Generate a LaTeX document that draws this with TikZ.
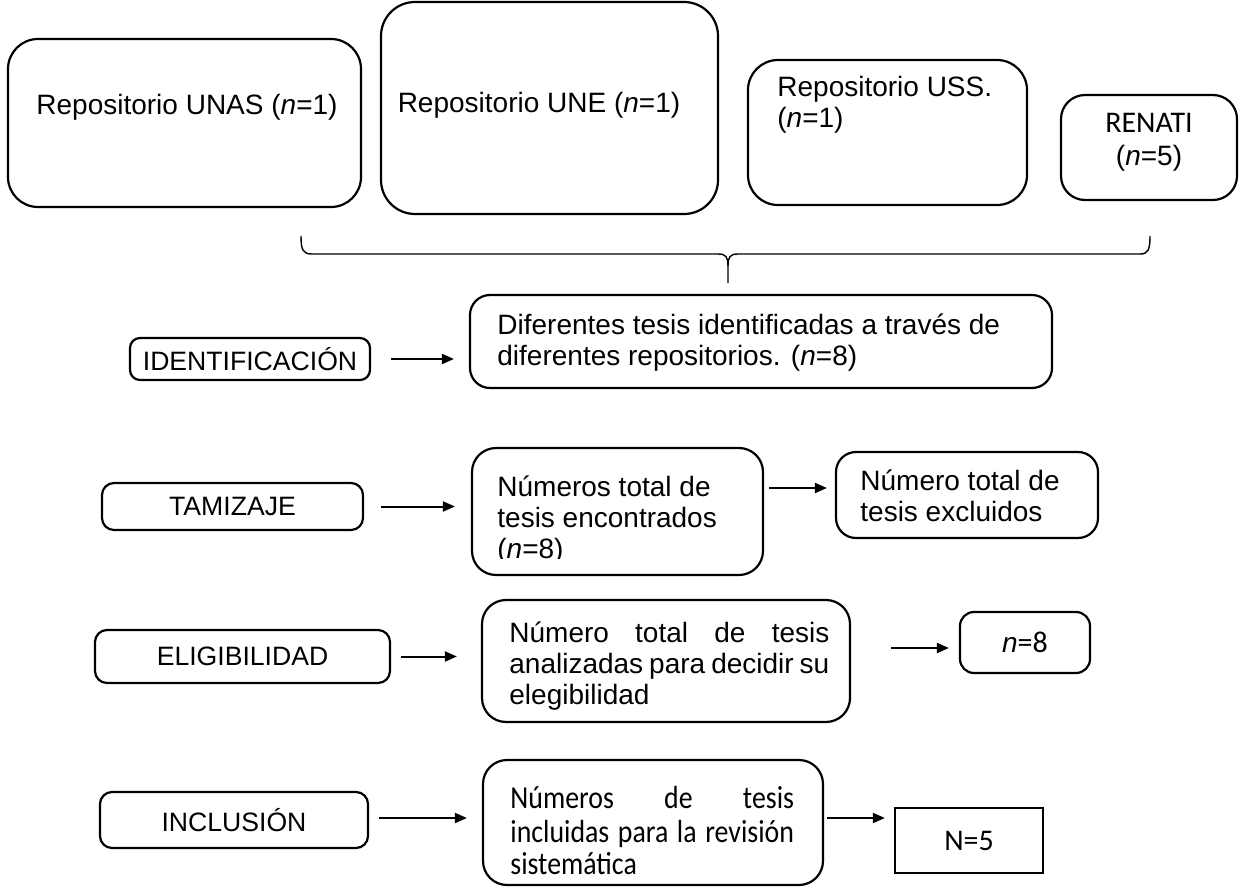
\documentclass[tikz,border=0pt]{standalone}
\usepackage{fontspec}
\setmainfont{Liberation Sans}
\newfontfamily\calib{Carlito}
\usetikzlibrary{arrows.meta}
\begin{document}
\begin{tikzpicture}[x=0.5pt,y=-0.5pt,
  every node/.style={font=\fontsize{14}{15.5}\selectfont, inner sep=0pt},
  bx/.style={draw, line width=1.1pt, rounded corners=#1},
  sq/.style={draw, line width=1.1pt},
  lbl/.style={font=\fontsize{13.3}{15}\selectfont},
  arr/.style={line width=1pt, -{Triangle[length=6pt,width=5pt]}},
  brace/.style={line width=0.7pt},
  txt/.style={align=left, anchor=west}]
\useasboundingbox (0,0) rectangle (1248,888);

% top repository boxes
\node[bx=15pt, minimum width=176.5pt, minimum height=84pt] (unas) at (184.5,123) {};
\node[bx=17pt, minimum width=168.5pt, minimum height=106pt] (une) at (549.5,108) {};
\node[bx=15pt, minimum width=139.5pt, minimum height=72.5pt] (uss) at (887.5,132.5) {};
\node[bx=12pt, minimum width=88pt, minimum height=52.5pt] (renati) at (1149,147.5) {};
\node (unast) at (187,107) {Repositorio UNAS (\textit{n}=1)};
\node (unet) at (539,105) {Repositorio UNE (\textit{n}=1)};
\node[txt] (usst) at (777,105) {Repositorio USS.\\(\textit{n}=1)};
\node[align=center, font=\fontsize{14}{16.5}\selectfont] (renatit) at (1149,142) {{\calib\fontsize{15}{16.5}\selectfont RENATI}\\(\textit{n}=5)};

% brace
\coordinate (bl) at (301,236);
\coordinate (br) at (1150,236);
\coordinate (bm) at (728,266);
\coordinate (btip) at (728,283);
\draw[brace] (bl) .. controls (301,250) and (303,254) .. (312,254) -- (718,254)
  .. controls (726,254) and (728,257) .. (bm) -- (btip);
\draw[brace] (bm) .. controls (728,257) and (730,254) .. (738,254) -- (1140,254)
  .. controls (1148,254) and (1150,250) .. (br);

% identificacion
\node[bx=5pt, lbl, minimum width=120pt, minimum height=21pt] (id) at (250,359) {IDENTIFICACIÓN};
\node[bx=10pt, minimum width=291pt, minimum height=46.5pt] (dif) at (761,341.5) {};
\node[txt] (dift) at (497,343) {Diferentes tesis identificadas a través de\\diferentes repositorios. (\textit{n}=8)};
\draw[arr, shorten <=10pt, shorten >=7.5pt] (id.east) -- (id.east -| dif.west);

% tamizaje
\node[bx=6pt, lbl, minimum width=130.5pt, minimum height=23.5pt] (tam) at (232.5,506.5) {TAMIZAJE};
\node[bx=12pt, minimum width=145.5pt, minimum height=63.5pt] (tmid) at (617.5,511.5) {};
\begin{scope}
\clip (472,440) rectangle (763,558);
\node[txt] (tmidt) at (497,520) {Números total de\\tesis encontrados\\(\textit{n}=8)};
\end{scope}
\node[bx=10pt, minimum width=131pt, minimum height=43pt] (excl) at (967,495) {};
\node[txt] (exclt) at (860,496) {Número total de\\tesis excluidos};
\draw[arr, shorten <=8.5pt, shorten >=8pt] (tam.east) -- (tam.east -| tmid.west);
\draw[arr, shorten <=2.5pt, shorten >=4pt] (tmid.east |- 0,488) -- (excl.west |- 0,488);

% elegibilidad
\node[bx=6pt, lbl, minimum width=147.5pt, minimum height=26.5pt] (elig) at (242.5,656.5) {ELIGIBILIDAD};
\node[bx=12pt, minimum width=184pt, minimum height=61pt] (emid) at (666,661) {};
\node[txt] (emidt) at (509,666) {\makebox[160pt][s]{Número total de tesis}\\\makebox[160pt][s]{analizadas para decidir su}\\elegibilidad};
\node[bx=7pt, minimum width=65pt, minimum height=30.5pt] (n8) at (1025,642.5) {\textit{n}{\calib\fontsize{15}{16}\selectfont =8}};
\draw[arr, shorten <=5pt, shorten >=12pt] (elig.east) -- (elig.east -| emid.west);
\draw[arr, shorten <=20pt, shorten >=5pt] (emid.east |- 0,648) -- (n8.west |- 0,648);

% inclusion
\node[bx=6pt, lbl, minimum width=134pt, minimum height=28pt] (incl) at (234,820) {INCLUSIÓN};
\node[bx=12pt, minimum width=170pt, minimum height=62.5pt] (imid) at (653,822.5) {};
\node[txt, font=\calib\fontsize{16}{16.5}\selectfont] (imidt) at (510,831) {\scalebox{0.87}[1]{\makebox[163pt][s]{Números de tesis}}\\\scalebox{0.87}[1]{\makebox[163pt][s]{incluidas para la revisión}}\\\scalebox{0.87}[1]{sistemática}};
\node[sq, minimum width=74pt, minimum height=32.5pt, font=\calib\fontsize{15}{16}\selectfont] (n5) at (969,840.5) {N=5};
\draw[arr, shorten <=5pt, shorten >=7.5pt] (incl.east |- 0,818) -- (imid.west |- 0,818);
\draw[arr, shorten <=1.5pt, shorten >=4.5pt] (imid.east |- 0,818) -- (n5.west |- 0,818);
\end{tikzpicture}
\end{document}
